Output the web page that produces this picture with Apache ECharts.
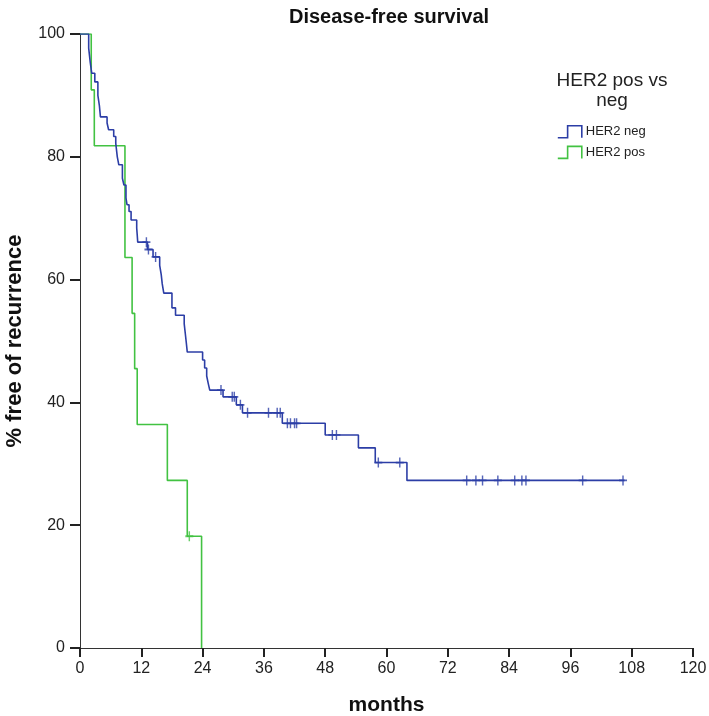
<!DOCTYPE html>
<html>
<head>
<meta charset="utf-8">
<script src="https://cdn.jsdelivr.net/npm/echarts@6/dist/echarts.min.js"></script>
<style>
html,body{margin:0;padding:0;background:#fff;}
#chart{width:709px;height:716px;}
</style>
</head>
<body>
<div id="chart"></div>
<script>
// ---- data ----
const xTicks = [0, 12, 24, 36, 48, 60, 72, 84, 96, 108, 120];
const yTicks = [0, 20, 40, 60, 80, 100];

// HER2 neg: step times (months) and survival (%) after each step
const negTimes = [0, 1.7, 2.0, 2.3, 2.9, 3.5, 3.8, 4.0, 5.3, 5.6, 6.6, 7.0, 7.3, 7.6, 8.3, 8.6, 9.0, 9.2, 9.6, 10.0,
  11.1, 11.2, 11.3, 13.2, 14.3, 15.6, 15.9, 16.1, 16.4, 18.0, 18.7, 20.4, 20.6, 20.8, 21.0,
  24.0, 24.4, 24.8, 25.1, 25.4, 28.0, 30.6, 31.8, 39.6, 48.0, 54.5, 57.8, 64.0, 106.6];
const negSurv = [100, 97.7, 95.4, 93.6, 92.2, 90.0, 88.3, 86.5, 85.5, 84.4, 83.3, 82.2, 80.0, 78.7, 76.5, 75.4, 73.3, 72.2, 71.1, 69.7,
  68.4, 67.3, 66.1, 64.9, 63.7, 62.3, 60.8, 59.3, 57.8, 55.4, 54.2, 52.8, 51.3, 49.8, 48.2,
  46.9, 45.6, 44.3, 43.1, 42.0, 40.9, 39.6, 38.3, 36.6, 34.7, 32.6, 30.2, 27.3, 27.3];
const negCensorTimes = [13.0, 13.4, 14.8, 27.6, 29.8, 30.2, 31.4, 32.8, 36.9, 38.6, 39.2, 40.6, 41.2, 42.0, 42.4,
  49.4, 50.2, 58.4, 62.6, 75.7, 77.5, 78.8, 81.8, 85.1, 86.5, 87.3, 98.4, 106.3];
const negCensorSurv = [66.1, 64.9, 63.7, 42.0, 40.9, 40.9, 39.6, 38.3, 38.3, 38.3, 38.3, 36.6, 36.6, 36.6, 36.6,
  34.7, 34.7, 30.2, 30.2, 27.3, 27.3, 27.3, 27.3, 27.3, 27.3, 27.3, 27.3, 27.3];

// HER2 pos
const posTimes = [0, 2.2, 2.8, 8.8, 10.2, 10.7, 11.2, 17.1, 21.0, 23.8];
const posSurv = [100, 90.9, 81.8, 63.6, 54.5, 45.5, 36.4, 27.3, 18.2, 0];
const posCensorTimes = [21.4];
const posCensorSurv = [18.2];

const seriesNames = ['HER2 neg', 'HER2 pos'];
const legendTitle = 'HER2 pos vs\nneg';
const chartTitle = 'Disease-free survival';
const xName = 'months';
const yName = '% free of recurrence';

// ---- build ----
const BLUE = '#2c3ea6';
const GREEN = '#42c242';
const zip = (a, b) => a.map((v, i) => [v, b[i]]);
const crossPath = 'path://M5,0L5,10M0,5L10,5';
const stepIcon = 'path://M0,12L9,12L9,1L22,1L22,12';

const chart = echarts.init(document.getElementById('chart'), null, {renderer: 'canvas'});
const mainFont = "'Liberation Sans',Arial,sans-serif";

chart.setOption({
  animation: false,
  backgroundColor: '#ffffff',
  title: [
    {text: chartTitle, left: 384, top: 2, textAlign: 'center',
     textStyle: {fontFamily: mainFont, fontWeight: 'bold', fontSize: 20, color: '#111'}},
    {text: legendTitle, left: 607, top: 66, textAlign: 'center',
     textStyle: {fontFamily: mainFont, fontWeight: 'normal', fontSize: 19, color: '#222', lineHeight: 20}}
  ],
  legend: {
    data: [
      {name: seriesNames[0], icon: stepIcon, itemStyle: {color: 'transparent', borderColor: BLUE, borderWidth: 1.6}},
      {name: seriesNames[1], icon: stepIcon, itemStyle: {color: 'transparent', borderColor: GREEN, borderWidth: 1.6}}
    ],
    orient: 'vertical', left: 552, top: 120, itemWidth: 26, itemHeight: 12, itemGap: 7,
    textStyle: {fontFamily: mainFont, fontSize: 13, color: '#222', padding: [0, 0, 0, -2]}
  },
  grid: {left: 80, right: 16, top: 34, bottom: 68, containLabel: false, outerBoundsMode: 'none'},
  xAxis: {
    type: 'value', min: xTicks[0], max: xTicks[xTicks.length - 1], interval: 12,
    name: xName, nameLocation: 'middle', nameGap: 47,
    nameTextStyle: {fontFamily: mainFont, fontWeight: 'bold', fontSize: 21, color: '#111'},
    axisLine: {lineStyle: {color: '#333', width: 1}},
    axisTick: {length: 9, lineStyle: {color: '#222', width: 2}},
    axisLabel: {fontFamily: mainFont, fontSize: 16, color: '#222', margin: 13},
    splitLine: {show: false}
  },
  yAxis: {
    type: 'value', min: yTicks[0], max: yTicks[yTicks.length - 1], interval: 20,
    name: yName, nameLocation: 'middle', nameGap: 54, nameRotate: 90,
    nameTextStyle: {fontFamily: mainFont, fontWeight: 'bold', fontSize: 22, color: '#111'},
    axisLine: {show: true, lineStyle: {color: '#333', width: 1}},
    axisTick: {show: true, length: 10, lineStyle: {color: '#222', width: 2}},
    axisLabel: {fontFamily: mainFont, fontSize: 16, color: '#222', margin: 15},
    splitLine: {show: false}
  },
  series: [
    {name: seriesNames[0], type: 'line', step: 'end', data: zip(negTimes, negSurv), showSymbol: false, symbol: 'none',
     lineStyle: {color: BLUE, width: 1.6}, itemStyle: {color: BLUE}, z: 3},
    {name: seriesNames[1], type: 'line', step: 'end', data: zip(posTimes, posSurv), showSymbol: false, symbol: 'none',
     lineStyle: {color: GREEN, width: 1.6}, itemStyle: {color: GREEN}, z: 2},
    {name: seriesNames[0], type: 'scatter', data: zip(negCensorTimes, negCensorSurv), symbol: crossPath, symbolSize: [8, 10],
     itemStyle: {color: 'transparent', borderColor: BLUE, borderWidth: 1.6}, z: 4},
    {name: seriesNames[1], type: 'scatter', data: zip(posCensorTimes, posCensorSurv), symbol: crossPath, symbolSize: [8, 10],
     itemStyle: {color: 'transparent', borderColor: GREEN, borderWidth: 1.6}, z: 4}
  ]
});
</script>
</body>
</html>
